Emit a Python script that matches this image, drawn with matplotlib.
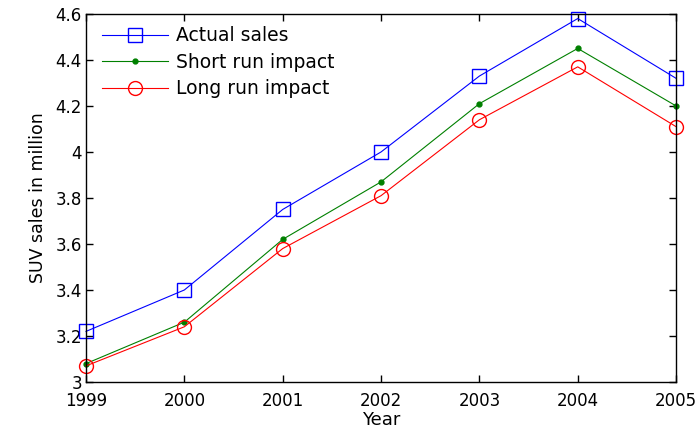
import matplotlib
matplotlib.use("Agg")
import matplotlib.pyplot as plt

years = [1999, 2000, 2001, 2002, 2003, 2004, 2005]
actual_sales = [3.22, 3.40, 3.75, 4.00, 4.33, 4.58, 4.32]
short_run = [3.08, 3.26, 3.62, 3.87, 4.21, 4.45, 4.20]
long_run = [3.07, 3.24, 3.58, 3.81, 4.14, 4.37, 4.11]

plt.rcParams["font.family"] = ["DejaVu Sans"]

fig = plt.figure(figsize=(6.97, 4.33), dpi=100)
ax = fig.add_axes([0.1234, 0.1178, 0.8466, 0.85])

ax.plot(years, actual_sales, color="#0000ff", lw=0.8, marker="s",
        markersize=10, markerfacecolor="none", markeredgewidth=1.0,
        label="Actual sales", clip_on=False)
ax.plot(years, short_run, color="#008000", lw=0.8, marker=".",
        markersize=7, label="Short run impact", clip_on=False)
ax.plot(years, long_run, color="#ff0000", lw=0.8, marker="o",
        markersize=10, markerfacecolor="none", markeredgewidth=1.0,
        label="Long run impact", clip_on=False)

ax.set_xlim(1999, 2005)
ax.set_ylim(3, 4.6)
ax.set_xticks(years)
ax.set_yticks([3, 3.2, 3.4, 3.6, 3.8, 4, 4.2, 4.4, 4.6])
ax.set_yticklabels(["3", "3.2", "3.4", "3.6", "3.8", "4", "4.2", "4.4", "4.6"])
ax.tick_params(direction="in", top=True, right=True, length=5,
               labelsize=12, width=1)
ax.tick_params(axis="x", pad=7)
ax.tick_params(axis="y", pad=3)
for s in ax.spines.values():
    s.set_linewidth(1)

ax.set_xlabel("Year", fontsize=13, labelpad=1)
ax.set_ylabel("SUV sales in million", fontsize=12.5, labelpad=6)

ax.legend(loc="upper left", frameon=False, fontsize=13.5,
          handlelength=3.5, handletextpad=0.45, labelspacing=0.4,
          borderaxespad=0, borderpad=0, bbox_to_anchor=(0.027, 0.967))

plt.savefig("out.png", dpi=100)
plt.close()
